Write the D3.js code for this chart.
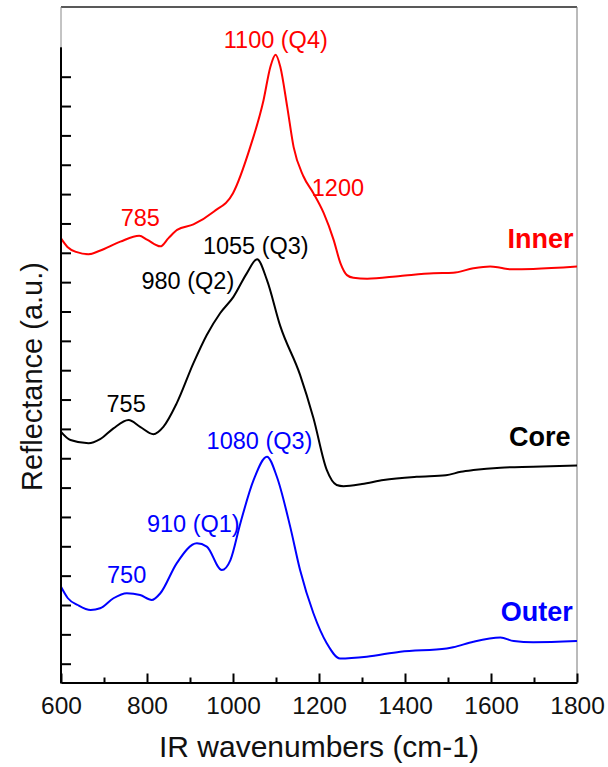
<!DOCTYPE html>
<html>
<head>
<meta charset="utf-8">
<script src="https://cdn.jsdelivr.net/npm/d3@7/dist/d3.min.js"></script>
<style>
  html, body { margin: 0; padding: 0; background: #fff; }
  svg { display: block; font-family: "Liberation Sans", Arial, Helvetica, sans-serif; }
</style>
</head>
<body>
<svg id="chart" width="608" height="767"></svg>
<script>
// ---------------- data ----------------
const innerWN = [600, 615, 635, 664, 690, 738, 782, 800, 831, 850, 870, 908, 955, 1000, 1040, 1071, 1087, 1099, 1110, 1126, 1141, 1164, 1187, 1211, 1234, 1250, 1265, 1280, 1312, 1389, 1466, 1512, 1559, 1598, 1622, 1645, 1698, 1800];
const innerVal = [14.49, 14.2, 14.03, 13.95, 14.07, 14.38, 14.58, 14.45, 14.22, 14.5, 14.78, 14.97, 15.40, 16.03, 17.6, 19.2, 20.34, 20.75, 20.34, 18.98, 17.6, 16.6, 16.03, 15.35, 14.44, 13.64, 13.24, 13.15, 13.12, 13.21, 13.30, 13.32, 13.47, 13.53, 13.49, 13.44, 13.45, 13.53];

const coreWN = [600, 622, 664, 691, 722, 757, 784, 815, 838, 869, 908, 939, 970, 1001, 1032, 1056, 1079, 1110, 1156, 1187, 1218, 1241, 1257, 1300, 1350, 1427, 1495, 1530, 1559, 1622, 1698, 1800];
const coreVal = [7.90, 7.62, 7.51, 7.65, 8.02, 8.30, 8.07, 7.82, 8.07, 8.87, 10.24, 11.20, 11.94, 12.50, 13.30, 13.78, 13.07, 11.50, 9.84, 8.37, 6.60, 6.09, 6.05, 6.12, 6.26, 6.37, 6.42, 6.54, 6.60, 6.68, 6.71, 6.75];

const outerWN = [600, 616, 639, 669, 691, 722, 753, 784, 811, 831, 869, 916, 939, 974, 994, 1017, 1048, 1079, 1102, 1133, 1156, 1187, 1218, 1249, 1311, 1389, 1497, 1512, 1559, 1622, 1653, 1698, 1800];
const outerVal = [2.62, 2.23, 2.00, 1.83, 1.89, 2.23, 2.40, 2.34, 2.17, 2.40, 3.42, 4.10, 3.99, 3.19, 3.53, 4.78, 6.26, 7.05, 6.37, 4.67, 3.19, 1.72, 0.70, 0.18, 0.24, 0.41, 0.52, 0.56, 0.75, 0.89, 0.77, 0.73, 0.77];

const seriesNames = ["Inner", "Core", "Outer"];
const seriesColors = ["#ff0000", "#000000", "#0000ff"];
// series label anchor (wavenumber, value) – right aligned
const seriesLabelWN = [1792, 1785, 1790];
const seriesLabelVal = [14.16, 7.43, 1.47];

// peak annotations
const annText  = ["1100 (Q4)", "785", "1200", "1055 (Q3)", "980 (Q2)", "755", "1080 (Q3)", "910 (Q1)", "750"];
const annWN    = [1099.5, 784.4, 1244, 1053, 895, 751.5, 1061.6, 907.7, 752.6];
const annVal   = [20.99, 14.91, 15.94, 13.96, 12.76, 8.59, 7.32, 4.48, 2.76];
const annSeries = [0, 0, 0, 1, 1, 1, 2, 2, 2];

const xMajorTicks = [600, 800, 1000, 1200, 1400, 1600, 1800];
const xMinorTicks = [700, 900, 1100, 1300, 1500, 1700];
const yTicks = d3.range(0, 21);

const xTitle = "IR wavenumbers (cm-1)";
const yTitle = "Reflectance (a.u.)";

// ---------------- layout ----------------
const svg = d3.select("#chart");
const plot = { left: 61, right: 577, top: 7, bottom: 682.5 };

const x = d3.scaleLinear().domain([600, 1800]).range([plot.left, plot.right]);
const y = d3.scaleLinear().domain([0, 20]).range([663.7, 76.7]);
const ySpineTop = 21;

// frame (thin)
svg.append("line").attr("x1", plot.left).attr("x2", plot.right).attr("y1", plot.top).attr("y2", plot.top)
  .attr("stroke", "#222").attr("stroke-width", 1.5);
svg.append("line").attr("x1", plot.right).attr("x2", plot.right).attr("y1", plot.top).attr("y2", plot.bottom)
  .attr("stroke", "#777").attr("stroke-width", 1);
svg.append("line").attr("x1", plot.left).attr("x2", plot.left).attr("y1", plot.top).attr("y2", y(ySpineTop))
  .attr("stroke", "#888").attr("stroke-width", 1);

// curves
const line = d3.line().x(d => x(d[0])).y(d => y(d[1])).curve(d3.curveMonotoneX);
const seriesWN = [innerWN, coreWN, outerWN];
const seriesVal = [innerVal, coreVal, outerVal];
seriesNames.forEach((name, i) => {
  const pts = seriesWN[i].map((w, j) => [w, seriesVal[i][j]]);
  svg.append("path").datum(pts).attr("d", line)
    .attr("fill", "none").attr("stroke", seriesColors[i]).attr("stroke-width", 2)
    .attr("stroke-linejoin", "round");
});

// y axis (ticks inward, no labels)
const yAxis = d3.axisLeft(y).tickValues(yTicks).tickSizeInner(-10).tickSizeOuter(0).tickFormat("");
const gy = svg.append("g").attr("transform", `translate(${plot.left},0)`).call(yAxis);
gy.select(".domain").remove();
gy.selectAll(".tick line").attr("stroke", "#000").attr("stroke-width", 2);
svg.append("line").attr("x1", plot.left).attr("x2", plot.left)
  .attr("y1", y(ySpineTop)).attr("y2", plot.bottom + 1)
  .attr("stroke", "#000").attr("stroke-width", 2);

// x axis
const xAxis = d3.axisBottom(x).tickValues(xMajorTicks).tickSizeInner(-9).tickSizeOuter(0).tickPadding(14).tickFormat(d3.format("d"));
const gx = svg.append("g").attr("transform", `translate(0,${plot.bottom})`).call(xAxis);
gx.select(".domain").attr("stroke", "#000").attr("stroke-width", 2);
gx.selectAll(".tick line").attr("stroke", "#000").attr("stroke-width", 2);
gx.selectAll(".tick text").attr("font-size", 24.5).attr("fill", "#111")
  .attr("font-family", "'Liberation Sans', Arial, sans-serif");
const xMinor = d3.axisBottom(x).tickValues(xMinorTicks).tickSizeInner(-5).tickSizeOuter(0).tickFormat("");
const gxm = svg.append("g").attr("transform", `translate(0,${plot.bottom})`).call(xMinor);
gxm.select(".domain").remove();
gxm.selectAll(".tick line").attr("stroke", "#000").attr("stroke-width", 2);

// annotations
annText.forEach((t, i) => {
  svg.append("text").attr("x", x(annWN[i])).attr("y", y(annVal[i]))
    .attr("text-anchor", "middle").attr("font-size", 23.5)
    .attr("fill", seriesColors[annSeries[i]]).text(t);
});

// series labels
seriesNames.forEach((name, i) => {
  svg.append("text").attr("x", x(seriesLabelWN[i])).attr("y", y(seriesLabelVal[i]))
    .attr("text-anchor", "end").attr("font-size", 27).attr("font-weight", "bold")
    .attr("fill", seriesColors[i]).text(name);
});

// axis titles
svg.append("text").attr("x", (plot.left + plot.right) / 2).attr("y", 757)
  .attr("text-anchor", "middle").attr("font-size", 30).attr("fill", "#111").text(xTitle);
svg.append("text").attr("transform", `translate(42,${(263 + 490) / 2}) rotate(-90)`)
  .attr("text-anchor", "middle").attr("font-size", 29).attr("fill", "#111").text(yTitle);
</script>
</body>
</html>
